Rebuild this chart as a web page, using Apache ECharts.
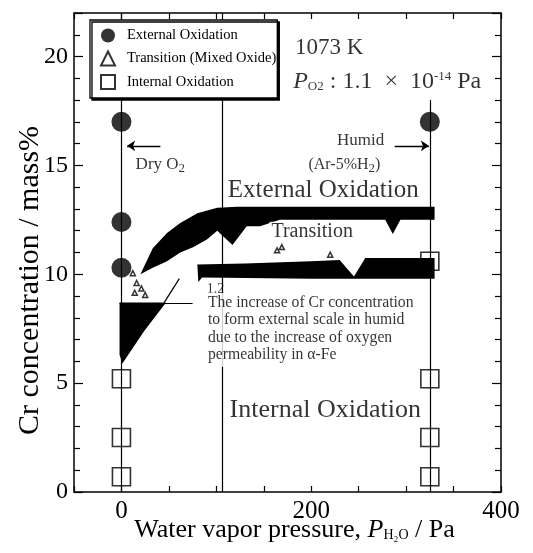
<!DOCTYPE html>
<html><head><meta charset="utf-8">
<script src="https://cdn.jsdelivr.net/npm/echarts@6/dist/echarts.min.js"></script>
<style>html,body{margin:0;padding:0;background:#fff}#c{width:533px;height:553px}</style>
</head><body><div id="c"></div>
<script>
// ---------- data ----------
const xTickLabels = [0, 200, 400];
const yTickLabels = [0, 5, 10, 15, 20];

const externalX = [0, 0, 0, 325];
const externalY = [17.0, 12.4, 10.3, 17.0];

const internalX = [0, 0, 0, 325, 325, 325, 325];
const internalY = [5.2, 2.5, 0.7, 10.6, 5.2, 2.5, 0.7];

const transitionX = [12, 16, 21, 14, 25, 164, 169, 220];
const transitionY = [10.05, 9.6, 9.35, 9.15, 9.05, 11.1, 11.25, 10.9];

// shaded transition regions (outline points)
const upperBandX = [20, 33, 48, 62, 80, 101, 122, 330, 330, 294, 286, 278, 167, 146, 132, 117, 101, 90, 76, 62, 48, 33];
const upperBandY = [10.0, 11.2, 11.9, 12.35, 12.8, 13.05, 13.1, 13.1, 12.5, 12.5, 11.85, 12.5, 12.5, 12.2, 12.2, 11.35, 12.0, 11.6, 11.25, 11.0, 10.6, 10.3];
const lowerBandX = [80, 130, 200, 230, 245, 257, 330, 330, 200, 85, 81];
const lowerBandY = [10.45, 10.5, 10.6, 10.65, 9.9, 10.75, 10.75, 9.8, 9.8, 9.85, 9.65];
const cornerX = [-2, 47, 24, 1, -2];
const cornerY = [8.7, 8.7, 7.4, 5.9, 6.3];

// guide lines [x1, y1, x2, y2]
const guideLines = [
  [0, 22, 0, 0],
  [106, 22, 106, 0],
  [325, 18, 325, 0],
  [-2, 8.65, 75, 8.65],
  [45, 8.7, 61, 9.8]
];
// arrows [xFrom, yFrom, xTo, yTo]
const arrows = [
  [41, 15.9, 6, 15.9],
  [288, 15.9, 324, 15.9]
];

// annotations
const noteText = [
  '1073 K',
  '{i|P}{s|O2}{n| : 1.1  ×  10}{p|-14}{n| Pa}',
  'Dry O{s|2}',
  'Humid',
  '(Ar-5%H{s|2})',
  'External Oxidation',
  'Transition',
  '1.2',
  'The increase of Cr concentration\nto form external scale in humid\ndue to the increase of oxygen\npermeability in α-Fe',
  'Internal Oxidation'
];
const noteX = [183, 181, 41, 252, 235, 110, 201, 90, 88, 114];
const noteY = [20.4, 18.85, 15.05, 16.15, 15.05, 13.85, 11.95, 9.3, 9.15, 3.75];

// ---------- styles ----------
const FONT = "'Liberation Serif', 'Times New Roman', serif";
const noteStyle = [
  {fontSize: 23, align: 'left'},
  {fontSize: 23, align: 'left'},
  {fontSize: 17, align: 'center'},
  {fontSize: 17, align: 'center'},
  {fontSize: 16, align: 'center'},
  {fontSize: 25, align: 'left', backgroundColor: '#fff', padding: [0, 0, 0, 2]},
  {fontSize: 20, align: 'center', backgroundColor: '#fff', padding: [0, 2, 0, 2]},
  {fontSize: 14, align: 'left'},
  {fontSize: 15.7, align: 'left', verticalAlign: 'top', lineHeight: 17.5, backgroundColor: '#fff', padding: [1, 3, 3, 3]},
  {fontSize: 26, align: 'left'}
];
const rich = {
  n: {fontSize: 24, fontFamily: FONT, color: '#000'},
  i: {fontSize: 24, fontFamily: FONT, fontStyle: 'italic', color: '#000'},
  s: {fontSize: 13, fontFamily: FONT, color: '#000', padding: [9, 0, 0, 0]},
  p: {fontSize: 13, fontFamily: FONT, color: '#000', padding: [0, 0, 10, 0]}
};

const polygons = [
  {x: upperBandX, y: upperBandY},
  {x: lowerBandX, y: lowerBandY},
  {x: cornerX, y: cornerY}
];

const chart = echarts.init(document.getElementById('c'), null, {renderer: 'canvas'});

function makeX(pos, showLabel) {
  return {
    type: 'value', position: pos, min: -50, max: 400, interval: 50,
    axisLine: {show: true, onZero: false, lineStyle: {color: '#000', width: 1.5}},
    axisTick: {show: true, inside: true, length: 6, lineStyle: {color: '#000', width: 1.2}},
    axisLabel: {show: showLabel, margin: 7, fontSize: 25, fontFamily: FONT, color: '#000',
      formatter: v => xTickLabels.includes(v) ? String(v) : ''},
    splitLine: {show: false}
  };
}
function makeY(pos, showLabel) {
  return {
    type: 'value', position: pos, min: 0, max: 22, interval: 5,
    axisLine: {show: true, onZero: false, lineStyle: {color: '#000', width: 1.5}},
    axisTick: {show: true, inside: true, length: 9, lineStyle: {color: '#000', width: 1.2}},
    minorTick: {show: true, splitNumber: 5, length: 6, lineStyle: {color: '#000', width: 1.2}},
    axisLabel: {show: showLabel, margin: 6, fontSize: 24, fontFamily: FONT, color: '#000',
      formatter: v => yTickLabels.includes(v) ? String(v) : ''},
    splitLine: {show: false}, minorSplitLine: {show: false}
  };
}

const xMain = makeX('bottom', true);
xMain.name = 'Water vapor pressure, {i|P}{s|H₂O}{n| / Pa}';
xMain.nameLocation = 'middle';
xMain.nameGap = 25;
xMain.nameMoveOverlap = false;
xMain.nameTextStyle = {fontSize: 26, fontFamily: FONT, color: '#000', padding: [0, 0, 0, 14],
  rich: {n: {fontSize: 26, fontFamily: FONT, color: '#000'},
         i: {fontSize: 26, fontFamily: FONT, fontStyle: 'italic', color: '#000'},
         s: {fontSize: 14, fontFamily: FONT, color: '#000', padding: [11, 0, 0, 0]}}};
const yMain = makeY('left', true);
yMain.name = 'Cr concentration / mass%';
yMain.nameLocation = 'middle';
yMain.nameGap = 29;
yMain.nameMoveOverlap = false;
yMain.nameRotate = 90;
yMain.nameTextStyle = {fontSize: 30, fontFamily: FONT, color: '#000', padding: [0, 56, 0, 0]};

const option = {
  animation: false,
  backgroundColor: '#fff',
  grid: {left: 74, right: 32, top: 13, bottom: 61, containLabel: false, outerBoundsMode: 'none'},
  xAxis: [xMain, makeX('top', false)],
  yAxis: [yMain, makeY('right', false)],
  legend: {
    orient: 'vertical', left: 90, top: 20,
    data: ['External Oxidation', 'Transition (Mixed Oxide)', 'Internal Oxidation'],
    itemWidth: 14, itemHeight: 14, itemGap: 7.5,
    padding: [8, 1, 8, 10],
    backgroundColor: '#fff', borderColor: '#000', borderWidth: 1.3,
    shadowColor: '#000', shadowBlur: 0, shadowOffsetX: 2, shadowOffsetY: 2,
    textStyle: {fontSize: 14.5, fontFamily: FONT, color: '#000', padding: [0, 0, 0, 7]},
    selectedMode: false
  },
  series: [
    {
      type: 'lines', coordinateSystem: 'cartesian2d', silent: true, z: 1,
      symbol: ['none', 'none'],
      lineStyle: {color: '#000', width: 1.2, opacity: 1},
      data: guideLines.map(l => ({coords: [[l[0], l[1]], [l[2], l[3]]]}))
    },
    {
      type: 'lines', coordinateSystem: 'cartesian2d', silent: true, z: 1,
      symbol: ['none', 'arrow'], symbolSize: 8,
      lineStyle: {color: '#000', width: 1.4, opacity: 1},
      data: arrows.map(l => ({coords: [[l[0], l[1]], [l[2], l[3]]]}))
    },
    {
      type: 'custom', silent: true, z: 2,
      data: polygons.map((p, i) => [i]),
      encode: {x: 0},
      renderItem: (params, api) => {
        const p = polygons[params.dataIndex];
        return {
          type: 'polygon',
          shape: {points: p.x.map((x, k) => api.coord([x, p.y[k]]))},
          style: {fill: '#000'}
        };
      }
    },
    {
      name: 'External Oxidation', type: 'scatter', z: 4, symbol: 'circle', symbolSize: 20,
      itemStyle: {color: '#000'},
      data: externalX.map((x, i) => [x, externalY[i]])
    },
    {
      name: 'Transition (Mixed Oxide)', type: 'scatter', z: 4, symbol: 'triangle', symbolSize: 5,
      itemStyle: {color: 'rgba(255,255,255,0)', borderColor: '#000', borderWidth: 1.5},
      data: transitionX.map((x, i) => [x, transitionY[i]])
    },
    {
      name: 'Internal Oxidation', type: 'scatter', z: 4, symbol: 'rect', symbolSize: 18,
      itemStyle: {color: 'rgba(255,255,255,0)', borderColor: '#000', borderWidth: 1.6},
      data: internalX.map((x, i) => [x, internalY[i]])
    },
    {
      type: 'scatter', silent: true, z: 5, symbolSize: 0,
      data: noteText.map((t, i) => ({
        value: [noteX[i], noteY[i]],
        label: Object.assign({show: true, position: 'inside', verticalAlign: 'middle',
          fontFamily: FONT, color: '#000', formatter: t, rich: rich}, noteStyle[i])
      }))
    }
  ]
};
chart.setOption(option);
</script>
</body></html>
